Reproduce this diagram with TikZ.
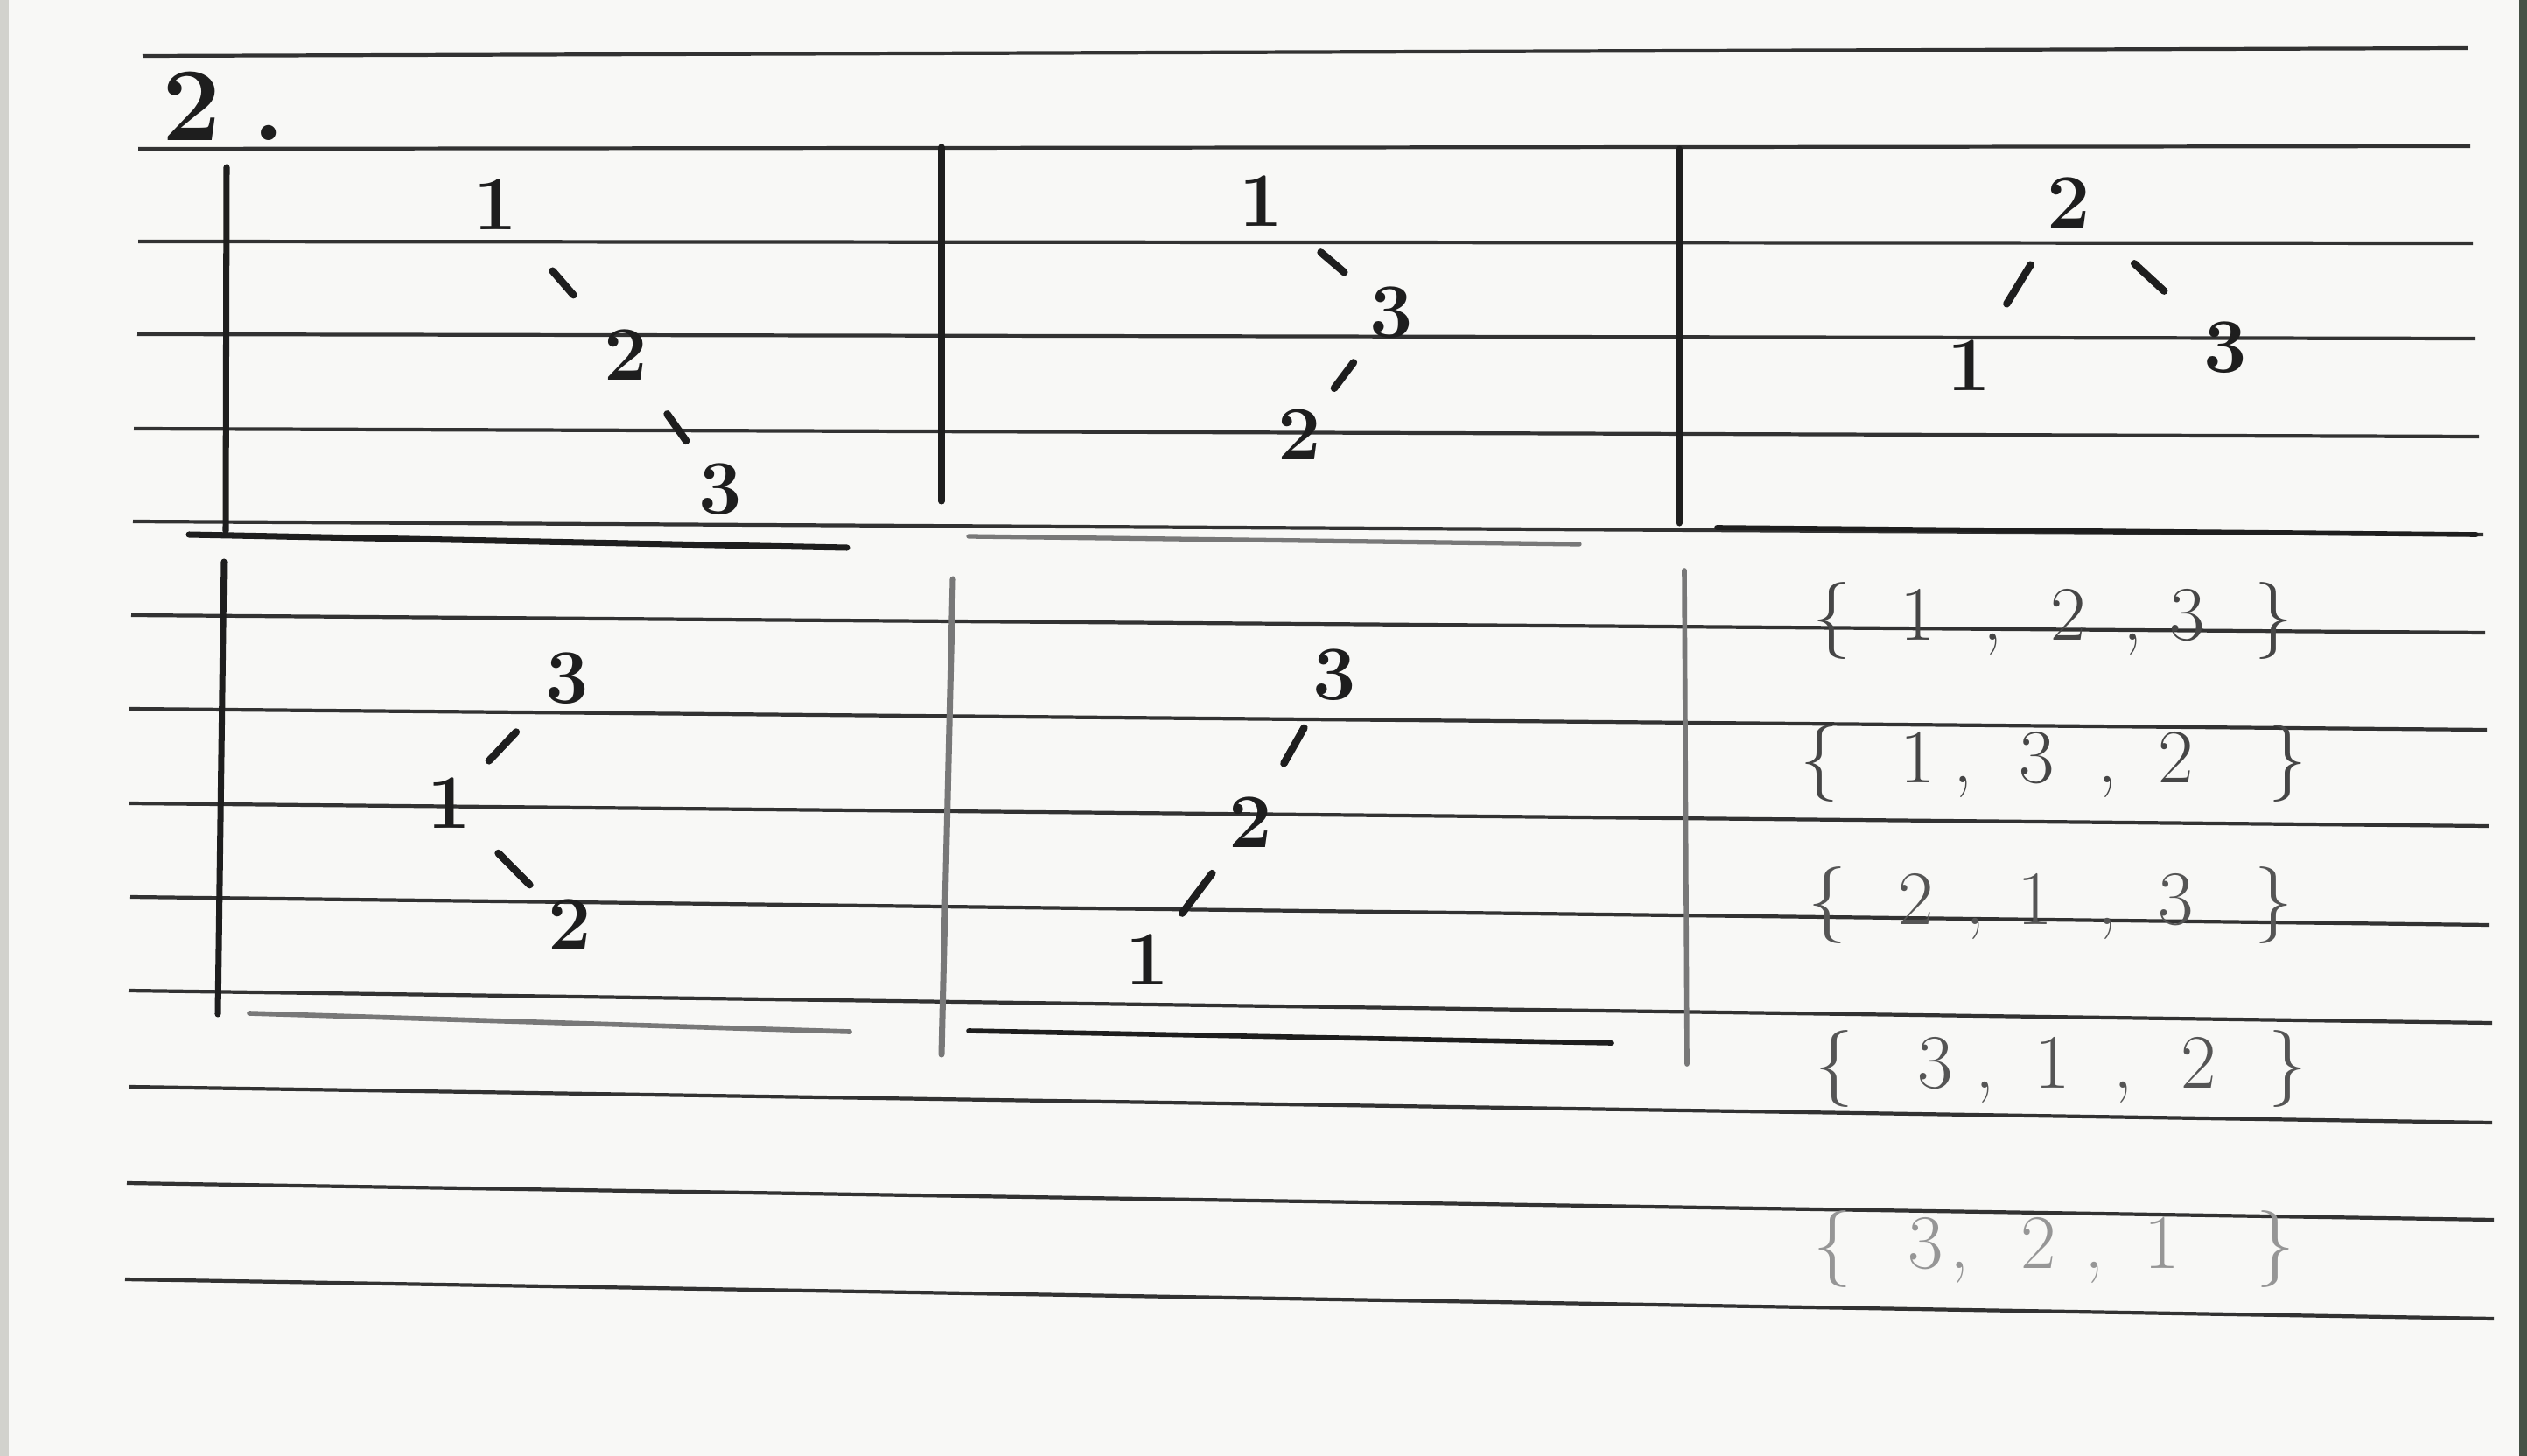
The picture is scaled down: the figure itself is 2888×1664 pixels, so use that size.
\documentclass[tikz,border=0pt]{standalone}
\usetikzlibrary{calc}
\definecolor{paper}{RGB}{248,248,246}
\definecolor{rulec}{RGB}{50,50,50}
\definecolor{ink}{RGB}{30,30,30}
\definecolor{inkgray}{RGB}{120,120,120}
\definecolor{setA}{RGB}{70,70,70}
\definecolor{setB}{RGB}{85,85,85}
\definecolor{setC}{RGB}{150,150,150}
\definecolor{edgeR}{RGB}{70,82,70}
\definecolor{edgeL}{RGB}{210,210,205}
\begin{document}
\begin{tikzpicture}[x=0.01cm,y=-0.01cm,
  ruled/.style={draw=rulec,line width=1.2pt},
  frame/.style={draw=ink,line width=2pt,line cap=round},
  framegray/.style={draw=inkgray,line width=2pt,line cap=round},
  digit/.style={inner sep=0pt,text=ink,font=\fontsize{25}{30}\selectfont\bfseries},
  edge/.style={draw=ink,line width=2.4pt,line cap=round},
  setch/.style={inner sep=0pt,anchor=base,font=\fontsize{25}{30}\selectfont},
]
\fill[paper] (0,0) rectangle (2888,1664);
\useasboundingbox (0,0) rectangle (2888,1664);
\fill[edgeL] (0,0) rectangle (10,1664);
\fill[edgeR] (2879,0) rectangle (2888,1664);

% ruled lines of the paper
\foreach \xa/\ya/\xb/\yb in {163/64/2820/55, 158/170/2823/167, 158/276/2826/278,
  157/382/2829/387, 153/490/2833/499, 152/596/2838/611, 150/703/2840/723,
  148/810/2842/834, 148/918/2844/944, 149/1025/2845/1057, 147/1132/2848/1169,
  148/1242/2848/1283, 145/1352/2850/1394, 143/1462/2850/1507}
  \draw[ruled] (\xa,\ya) -- (\xb,\yb);

% table frame
\draw[frame] (259,191) -- (258,607);
\draw[frame] (1076,168) -- (1076,573);
\draw[frame] (1919,170) -- (1919,598);
\draw[frame] (256,642) -- (249,1159);
\draw[framegray] (1089,662) -- (1076,1205);
\draw[framegray,line width=1.6pt] (1925,652) -- (1928,1216);
\draw[frame] (216,611) -- (968,626);
\draw[framegray,line width=1.5pt] (1107,613) -- (1805,622);
\draw[frame,line width=1.6pt] (1962,603) -- (2830,611);
\draw[framegray,line width=1.6pt] (285,1158) -- (971,1179);
\draw[frame,line width=1.6pt] (1107,1178) -- (1842,1192);

% heading
\node[inner sep=0pt,anchor=base west,text=ink,font=\fontsize{34}{40}\selectfont\bfseries] (hd) at (185,161) {2\hspace{0.3em}.};

% tree 1
\node[digit] (a1) at (566,234) {1};
\node[digit] (a2) at (715,406) {2};
\node[digit] (a3) at (823,559) {3};
\draw[edge] ($(a1)!0.44!(a2)$) -- ($(a1)!0.60!(a2)$);
\draw[edge] ($(a2)!0.44!(a3)$) -- ($(a2)!0.64!(a3)$);

% tree 2
\node[digit] (b1) at (1441,230) {1};
\node[digit] (b3) at (1590,357) {3};
\node[digit] (b2) at (1485,497) {2};
\draw[edge] ($(b1)!0.46!(b3)$) -- ($(b1)!0.64!(b3)$);
\draw[edge] ($(b3)!0.41!(b2)$) -- ($(b3)!0.62!(b2)$);

% tree 3
\node[digit] (c2) at (2364,232) {2};
\node[digit] (c1) at (2250,418) {1};
\node[digit] (c3) at (2543,397) {3};
\draw[edge] ($(c2)!0.38!(c1)$) -- ($(c2)!0.62!(c1)$);
\draw[edge] ($(c2)!0.42!(c3)$) -- ($(c2)!0.61!(c3)$);

% tree 4
\node[digit] (d3) at (648,775) {3};
\node[digit] (d1) at (513,918) {1};
\node[digit] (d2) at (651,1057) {2};
\draw[edge] ($(d3)!0.43!(d1)$) -- ($(d3)!0.66!(d1)$);
\draw[edge] ($(d1)!0.41!(d2)$) -- ($(d1)!0.67!(d2)$);

% tree 5
\node[digit] (e3) at (1525,771) {3};
\node[digit] (e2) at (1429,940) {2};
\node[digit] (e1) at (1311,1097) {1};
\draw[edge] ($(e3)!0.36!(e2)$) -- ($(e3)!0.60!(e2)$);
\draw[edge] ($(e2)!0.37!(e1)$) -- ($(e2)!0.66!(e1)$);

% sets
\foreach \ch/\xx [count=\k] in {{\{}/2093,1/2192,{,}/2277,2/2364,{,}/2437,3/2500,{\}}/2598}
  \node[setch,text=setA] (sa\k) at (\xx,731) {\ch};
\foreach \ch/\xx [count=\k] in {{\{}/2079,1/2192,{,}/2243,3/2328,{,}/2408,2/2487,{\}}/2614}
  \node[setch,text=setA] (sb\k) at (\xx,894) {\ch};
\foreach \ch/\xx [count=\k] in {{\{}/2088,2/2190,{,}/2257,1/2326,{,}/2408,3/2487,{\}}/2598}
  \node[setch,text=setB] (sc\k) at (\xx,1056) {\ch};
\foreach \ch/\xx [count=\k] in {{\{}/2096,3/2212,{,}/2268,1/2346,{,}/2426,2/2513,{\}}/2614}
  \node[setch,text=setB] (sd\k) at (\xx,1243) {\ch};
\foreach \ch/\xx [count=\k] in {{\{}/2094,3/2201,{,}/2239,2/2330,{,}/2393,1/2471,{\}}/2600}
  \node[setch,text=setC] (se\k) at (\xx,1449) {\ch};
\end{tikzpicture}
\end{document}
